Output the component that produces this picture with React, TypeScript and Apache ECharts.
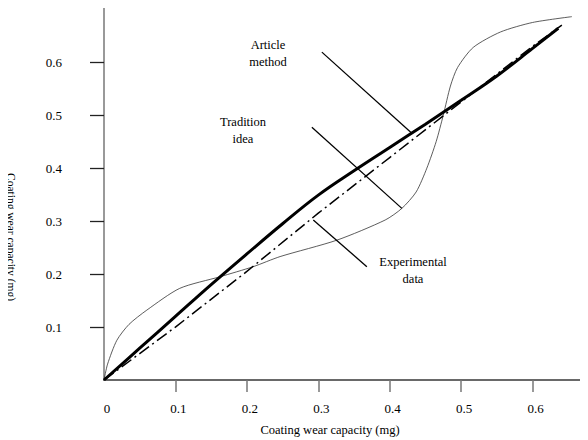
import React, { useEffect, useRef } from "react";
import * as echarts from "echarts";

const xTickValues = [0, 0.1, 0.2, 0.3, 0.4, 0.5, 0.6];
const yTickValues = [0.1, 0.2, 0.3, 0.4, 0.5, 0.6];

const articleX = [0, 0.05, 0.1, 0.15, 0.2, 0.25, 0.3, 0.35, 0.4, 0.45, 0.5, 0.55, 0.6, 0.636];
const articleY = [0, 0.06, 0.12, 0.18, 0.238, 0.295, 0.349, 0.395, 0.439, 0.483, 0.528, 0.574, 0.626, 0.664];

const traditionX = [0, 0.1, 0.2, 0.3, 0.4, 0.5, 0.6, 0.641];
const traditionY = [0, 0.1, 0.205, 0.315, 0.42, 0.525, 0.63, 0.67];

const experimentX = [0, 0.005, 0.018, 0.035, 0.06, 0.106, 0.1625, 0.209, 0.2465, 0.326, 0.3936, 0.417, 0.437, 0.452, 0.465, 0.475, 0.485, 0.495, 0.517, 0.555, 0.6, 0.655];
const experimentY = [0, 0.03, 0.075, 0.105, 0.132, 0.173, 0.195, 0.214, 0.233, 0.264, 0.302, 0.324, 0.355, 0.4, 0.45, 0.5, 0.555, 0.59, 0.628, 0.657, 0.675, 0.686];

const leaderArticle = [[0.305, 0.619], [0.431, 0.466]];
const leaderTradition = [[0.291, 0.477], [0.417, 0.324]];
const leaderExperiment = [[0.293, 0.302], [0.368, 0.214]];

const labelArticle = "Article\nmethod";
const labelTradition = "Tradition\nidea";
const labelExperiment = "Experimental\ndata";
const axisTitle = "Coating wear capacity (mg)";

const zip = (xs: number[], ys: number[]) => xs.map((x, i) => [x, ys[i]]);

const FONT = "Liberation Serif";

export default function App() {
  const ref = useRef<HTMLDivElement>(null);
  useEffect(() => {
    if (!ref.current) return;
    const chart = echarts.init(ref.current, null, { renderer: "svg" });
    const leader = (data: number[][]) => ({
      type: "line",
      data,
      symbol: "none",
      lineStyle: { color: "#000", width: 1.3 },
      xAxisIndex: 0,
      yAxisIndex: 0,
    });
    chart.setOption({
      animation: false,
      backgroundColor: "#fff",
      grid: { left: 104, top: 5, bottom: 60, right: -16, outerBoundsMode: "none" },
      xAxis: [
        {
          type: "value",
          min: 0,
          max: 0.7,
          interval: 0.1,
          axisLine: { show: true, onZero: false, lineStyle: { color: "#000", width: 1.5 } },
          axisTick: { show: true, length: 12, inside: false, customValues: [0.1, 0.2, 0.3, 0.4, 0.5, 0.6], lineStyle: { color: "#777", width: 1.5 } },
          axisLabel: {
            customValues: xTickValues,
            margin: 22,
            color: "#000",
            fontFamily: FONT,
            fontSize: 13,
            padding: [0, 0, 0, 6],
            formatter: (v: number) => (v === 0 ? "0" : v.toFixed(1)),
          },
          splitLine: { show: false },
        },
        {
          type: "value",
          position: "top",
          min: 0,
          max: 0.7,
          axisLine: { show: true, lineStyle: { color: "#777", width: 1.5 } },
          axisTick: { show: false },
          axisLabel: { show: false },
          splitLine: { show: false },
        },
      ],
      yAxis: [
        {
          type: "value",
          min: 0,
          max: 0.708,
          interval: 0.1,
          axisLine: { show: true, onZero: false, lineStyle: { color: "#777", width: 1.5 } },
          axisTick: { show: true, length: 14, inside: false, customValues: yTickValues, lineStyle: { color: "#222", width: 1.3 } },
          axisLabel: { show: false },
          splitLine: { show: false },
        },
        {
          type: "value",
          position: "left",
          offset: 16,
          min: 0,
          max: 0.708,
          interval: 0.1,
          axisLine: { show: false },
          axisTick: { show: false },
          axisLabel: {
            customValues: yTickValues,
            margin: 26,
            color: "#000",
            fontFamily: FONT,
            fontSize: 13,
            formatter: (v: number) => v.toFixed(1),
          },
          splitLine: { show: false },
        },
      ],
      graphic: [
        {
          type: "text",
          x: 11,
          y: 237,
          rotation: -Math.PI / 2,
          style: { text: axisTitle, font: `11.5px "${FONT}"`, fill: "#000", align: "center", verticalAlign: "middle" },
        },
        {
          type: "text",
          x: 330,
          y: 430,
          style: { text: axisTitle, font: `12.5px "${FONT}"`, fill: "#000", align: "center", verticalAlign: "middle" },
        },
        {
          type: "text",
          x: 268,
          y: 53,
          style: { text: labelArticle, font: `12.5px "${FONT}"`, fill: "#000", align: "center", verticalAlign: "middle", lineHeight: 17 },
        },
        {
          type: "text",
          x: 243,
          y: 130,
          style: { text: labelTradition, font: `12.5px "${FONT}"`, fill: "#000", align: "center", verticalAlign: "middle", lineHeight: 17 },
        },
        {
          type: "text",
          x: 413,
          y: 270,
          style: { text: labelExperiment, font: `12.5px "${FONT}"`, fill: "#000", align: "center", verticalAlign: "middle", lineHeight: 17 },
        },
      ],
      series: [
        {
          type: "line",
          name: "Experimental data",
          data: zip(experimentX, experimentY),
          symbol: "none",
          smooth: 0.25,
          lineStyle: { color: "#333", width: 0.8 },
        },
        {
          type: "line",
          name: "Tradition idea",
          data: zip(traditionX, traditionY),
          symbol: "none",
          lineStyle: { color: "#000", width: 1.5, type: [12, 4, 2, 4] },
        },
        {
          type: "line",
          name: "Article method",
          data: zip(articleX, articleY),
          symbol: "none",
          smooth: 0.4,
          lineStyle: { color: "#000", width: 3 },
        },
        leader(leaderArticle),
        leader(leaderTradition),
        leader(leaderExperiment),
      ],
    });
    return () => chart.dispose();
  }, []);
  return <div ref={ref} style={{ width: 588, height: 440, marginLeft: -8, marginTop: -8 }} />;
}
